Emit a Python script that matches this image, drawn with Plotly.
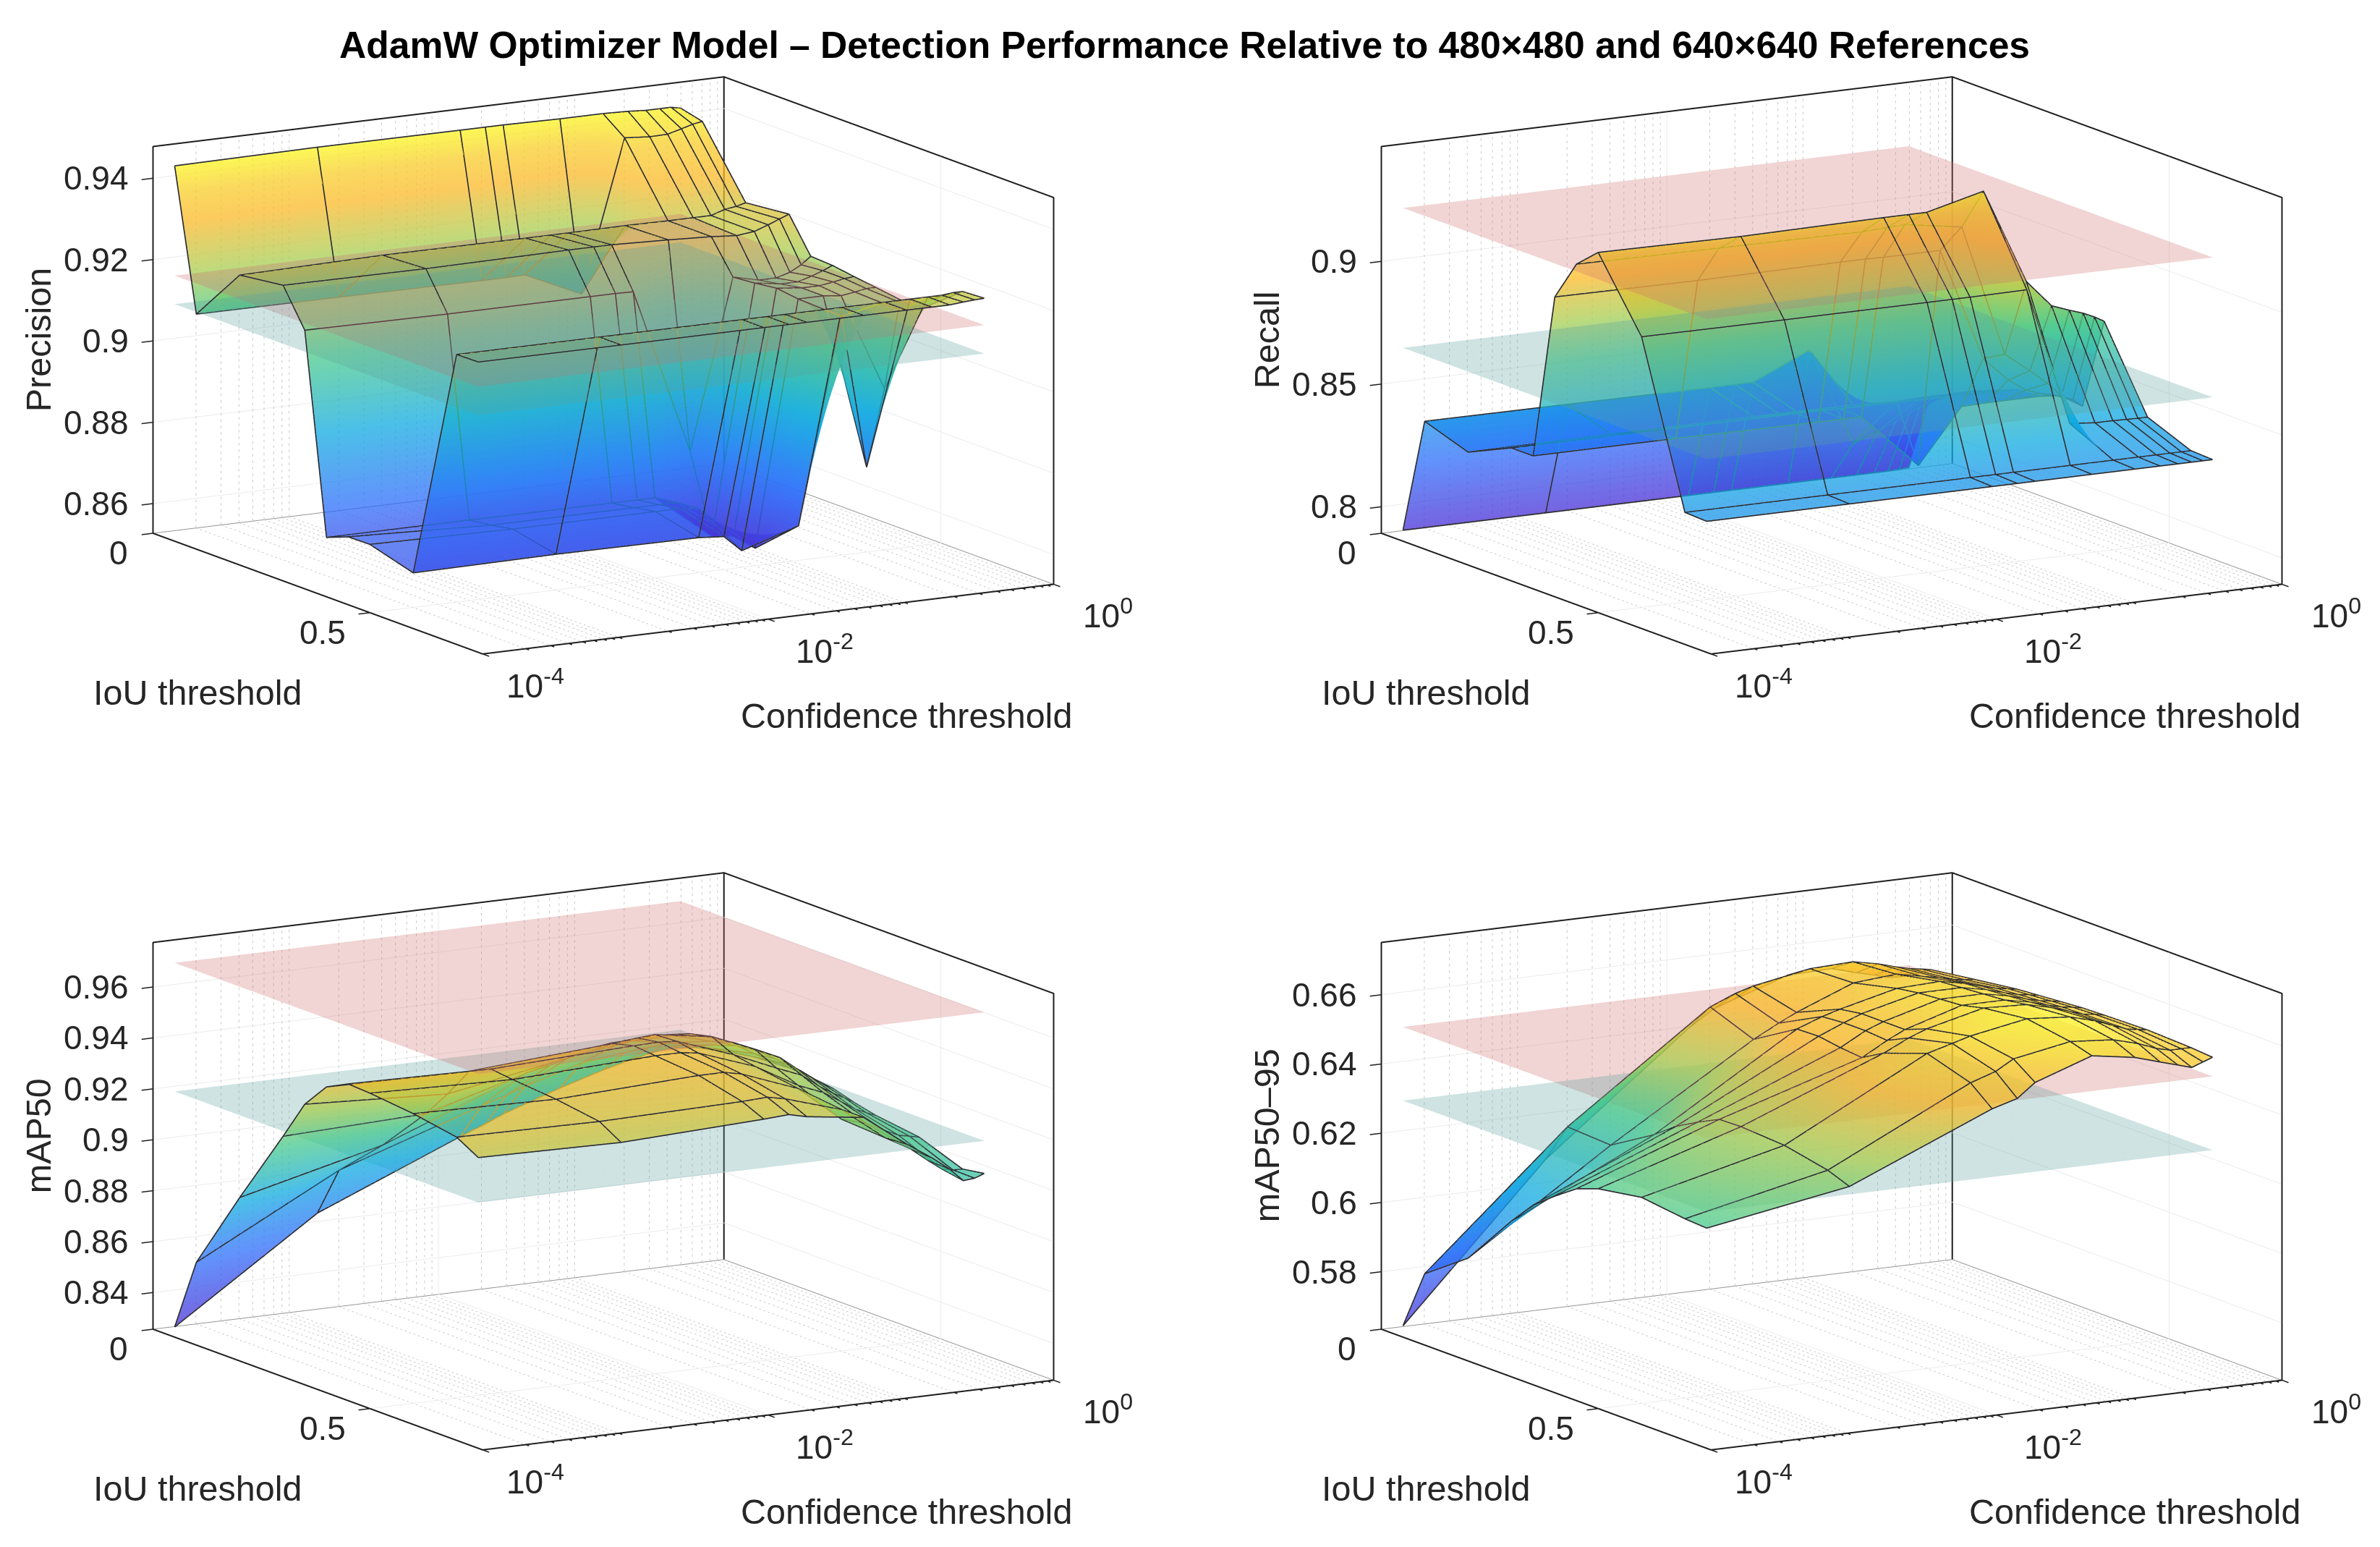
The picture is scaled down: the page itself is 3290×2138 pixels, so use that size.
import math
import plotly.graph_objects as go

conf = [1e-4, 1e-3, 0.01, 0.015, 0.02, 0.05, 0.1, 0.15, 0.2, 0.25, 0.3, 0.35]
iou = [0.05, 0.1, 0.2, 0.3, 0.35, 0.4, 0.45, 0.5, 0.6, 0.7, 0.75]

precision = [
    [.9450, .9453, .9452, .9452, .9452, .9450, .9450, .9448, .9445, .9445, .9445, .9440],
    [.9105, .9104, .9102, .9102, .9103, .9039, .9410, .9405, .9406, .9415, .9423, .9427],
    [.9240, .9246, .9245, .9245, .9245, .9246, .9245, .9245, .9245, .9256, .9260, .9266],
    [.9254, .9252, .9255, .9255, .9255, .9250, .9245, .9240, .9245, .9257, .9268, .9277],
    [.9163, .9160, .9160, .9160, .9159, .8750, .9165, .9150, .9150, .9160, .9175, .9193],
    [.8673, .8673, .8672, .8672, .8672, .8560, .9170, .9160, .9160, .9170, .9180, .9190],
    [.8694, .8680, .8680, .8680, .8680, .8580, .9177, .9170, .9170, .9175, .9180, .9182],
    [.8695, .8690, .8690, .8690, .8685, .8570, .9170, .9170, .9165, .9170, .9175, .9175],
    [.8664, .8667, .8665, .8660, .8620, .8664, .9166, .8788, .8975, .9166, .9170, .9160],
    [.9240, .9240, .9240, .9240, .9240, .9240, .9240, .9240, .9240, .9240, .9243, .9243],
    [.9241, .9240, .9240, .9240, .9240, .9240, .9240, .9240, .9240, .9243, .9245, .9246],
]
recall = [
    [.7937, .7937, .7937, .7937, .7937, .7937, .7937, .7937, .7937, .7937, .7939, .7941],
    [.8413, .8411, .8408, .8409, .8409, .8513, .8110, .8150, .8180, .8210, .8240, .8260],
    [.8352, .8354, .8354, .8354, .8354, .8352, .8345, .8350, .8350, .8350, .8350, .8350],
    [.8434, .8434, .8432, .8432, .8430, .8430, .8425, .8420, .8420, .8420, .8420, .8420],
    [.8434, .8434, .8430, .8430, .8428, .8203, .8422, .8425, .8425, .8425, .8425, .8425],
    [.9114, .9110, .9114, .9114, .9112, .9112, .8650, .8550, .8500, .8480, .8470, .8460],
    [.9280, .9275, .9270, .9275, .9278, .9240, .8700, .8620, .8560, .8500, .8480, .8450],
    [.9360, .9354, .9360, .9360, .9360, .9418, .9028, .8917, .8890, .8871, .8850, .8828],
    [.9081, .9079, .9079, .9079, .9079, .9081, .8515, .8505, .8505, .8503, .8502, .8502],
    [.8430, .8430, .8430, .8430, .8430, .8430, .8430, .8430, .8430, .8430, .8430, .8430],
    [.8426, .8426, .8426, .8426, .8426, .8426, .8426, .8426, .8426, .8426, .8426, .8426],
]
map50 = [
    [.8296, .8675, .8907, .8945, .8975, .9050, .9100, .9125, .9140, .9150, .9152, .9151],
    [.8581, .8875, .9060, .9090, .9115, .9180, .9200, .9210, .9215, .9200, .9190, .9183],
    [.8898, .9035, .9250, .9270, .9290, .9330, .9300, .9280, .9260, .9240, .9230, .9218],
    [.9201, .9221, .9380, .9400, .9410, .9415, .9370, .9340, .9300, .9270, .9250, .9227],
    [.9358, .9330, .9430, .9440, .9450, .9450, .9395, .9350, .9310, .9280, .9250, .9221],
    [.9457, .9450, .9490, .9500, .9505, .9470, .9400, .9355, .9300, .9260, .9230, .9210],
    [.9500, .9490, .9513, .9515, .9510, .9430, .9357, .9317, .9264, .9230, .9207, .9185],
    [.9495, .9480, .9505, .9505, .9495, .9415, .9320, .9280, .9235, .9200, .9180, .9165],
    [.9477, .9465, .9490, .9490, .9475, .9390, .9250, .9220, .9185, .9160, .9150, .9142],
    [.9447, .9440, .9450, .9455, .9440, .9370, .9240, .9185, .9130, .9090, .9080, .9079],
    [.9398, .9389, .9412, .9418, .9401, .9371, .9246, .9180, .9127, .9075, .9079, .9093],
]
map5095 = [
    [.5667, .6098, .6426, .6473, .6491, .6544, .6548, .6527, .6514, .6502, .6500, .6499],
    [.5840, .6214, .6510, .6540, .6555, .6585, .6590, .6575, .6560, .6550, .6545, .6540],
    [.5931, .6207, .6462, .6500, .6525, .6590, .6600, .6585, .6575, .6565, .6560, .6558],
    [.6084, .6283, .6538, .6565, .6580, .6620, .6625, .6610, .6595, .6585, .6580, .6575],
    [.6153, .6330, .6540, .6570, .6590, .6630, .6630, .6615, .6600, .6590, .6585, .6580],
    [.6202, .6365, .6530, .6570, .6590, .6635, .6635, .6620, .6605, .6595, .6590, .6585],
    [.6246, .6396, .6524, .6565, .6590, .6640, .6640, .6625, .6610, .6600, .6595, .6590],
    [.6269, .6398, .6560, .6595, .6615, .6655, .6650, .6632, .6615, .6602, .6598, .6592],
    [.6290, .6390, .6605, .6625, .6640, .6670, .6660, .6640, .6620, .6605, .6600, .6595],
    [.6274, .6364, .6566, .6590, .6620, .6650, .6640, .6620, .6600, .6590, .6590, .6590],
    [.6270, .6340, .6514, .6535, .6575, .6632, .6612, .6590, .6575, .6563, .6575, .6585],
]

# name, values, pink reference, teal reference, z limits, z ticks
panels = [
    ('Precision', precision, 0.918, 0.911, [0.8527, 0.9478], [0.86, 0.88, 0.9, 0.92, 0.94]),
    ('Recall', recall, 0.925, 0.868, [0.7892, 0.9468], [0.8, 0.85, 0.9]),
    ('mAP50', map50, 0.9726, 0.9221, [0.8256, 0.9775], [0.84, 0.86, 0.88, 0.9, 0.92, 0.94, 0.96]),
    ('mAP50\u201395', map5095, 0.653, 0.6317, [0.5634, 0.6751], [0.58, 0.6, 0.62, 0.64, 0.66]),
]
# transparent traces blend in trace order: does each plane go over the surface?
pink_on_top = [True, True, True, False]
teal_on_top = [True, True, False, False]

iou_max = 0.76
conf_ticks = [-4, -2, 0]
iou_ticks = [0, 0.5]
minor_conf = [m * 10.0 ** k for k in range(-4, 0) for m in range(2, 10)]

parula = [
    [0.0, 'rgb(72,48,215)'],
    [0.2, 'rgb(45,110,250)'],
    [0.4, 'rgb(15,170,225)'],
    [0.6, 'rgb(70,200,140)'],
    [0.72, 'rgb(170,205,80)'],
    [0.85, 'rgb(250,185,40)'],
    [0.93, 'rgb(248,205,40)'],
    [1.0, 'rgb(250,245,30)'],
]
flat_light = dict(ambient=1, diffuse=0, specular=0, roughness=1, fresnel=0)

# centre of each box on the page, pixels (page body adds 8 px)
W, H = 3290, 2138
box_w, box_h = 1500, 980
centres = [(826, 497), (2524, 497), (826, 1597), (2524, 1597)]

az = math.radians(30.0)
el = math.radians(12.2)
eye_r = 2.5
eye = dict(
    x=-eye_r * math.sin(az) * math.cos(el),
    y=-eye_r * math.cos(az) * math.cos(el),
    z=eye_r * math.sin(el),
)
# axis ranges are padded so ticks outside the box are not clipped,
# in orthographic mode the aspect ratio sets the drawn size
pad = 0.025
box_scale = 1.86 * (1 + 2 * pad)
x_pad = 4 * pad
y_pad = iou_max * pad


def mesh_lines(values):
    xs, ys, zs = [], [], []
    for j, y_ in enumerate(iou):
        xs += conf + [None]
        ys += [y_] * len(conf) + [None]
        zs += values[j] + [None]
    for i, x_ in enumerate(conf):
        xs += [x_] * len(iou) + [None]
        ys += iou + [None]
        zs += [row[i] for row in values] + [None]
    return xs, ys, zs


def label(x, y, z, text, dx, dy, size=46, angle=0, xanchor='center'):
    return dict(
        x=x, y=y, z=z, text=text, showarrow=False, xshift=dx, yshift=dy,
        xanchor=xanchor, yanchor='middle', textangle=angle,
        font=dict(family='Liberation Sans', size=size, color='#262626'),
    )


def line_trace(xs, ys, zs, color, width, sid):
    return go.Scatter3d(
        x=xs, y=ys, z=zs, mode='lines', line=dict(color=color, width=width),
        hoverinfo='skip', showlegend=False, scene=sid,
    )


def plane_trace(level, color, sid):
    return go.Surface(
        x=[conf[0], conf[-1]], y=[iou[0], iou[-1]], z=[[level, level], [level, level]],
        colorscale=[[0, color], [1, color]], opacity=0.3, showscale=False,
        lighting=flat_light, hoverinfo='skip', scene=sid,
    )


fig = go.Figure()
scenes = {}

for idx, (name, values, pink, teal, zlim, zticks) in enumerate(panels):
    sid = 'scene' if idx == 0 else f'scene{idx + 1}'
    x0, x1 = 1e-4, 1.0
    z0, z1 = zlim

    # grid first
    gx, gy, gz = [], [], []
    for t in zticks:
        gx += [x0, x1, x1, None]
        gy += [0, 0, iou_max, None]
        gz += [t, t, t, None]
    for t in conf_ticks:
        v = 10.0 ** t
        gx += [v, v, v, None]
        gy += [iou_max, 0, 0, None]
        gz += [z0, z0, z1, None]
    for t in iou_ticks:
        gx += [x0, x1, x1, None]
        gy += [t, t, t, None]
        gz += [z0, z0, z1, None]
    fig.add_trace(line_trace(gx, gy, gz, 'rgb(236,236,236)', 2, sid))

    # dotted minor grid of the log axis, floor and iou=0 wall
    dx_, dy_, dz_ = [], [], []
    n_floor, n_wall = 75, 60
    for m in minor_conf:
        for k in range(n_floor):
            y_a = iou_max * k / n_floor
            dx_ += [m, m, None]
            dy_ += [y_a, y_a + 0.4 * iou_max / n_floor, None]
            dz_ += [z0, z0, None]
        for k in range(n_wall):
            z_a = z0 + (z1 - z0) * k / n_wall
            dx_ += [m, m, None]
            dy_ += [0, 0, None]
            dz_ += [z_a, z_a + 0.4 * (z1 - z0) / n_wall, None]
    fig.add_trace(line_trace(dx_, dy_, dz_, 'rgb(200,200,200)', 2, sid))

    # back floor edges and box frame
    fig.add_trace(line_trace([x0, x1, x1], [0, 0, iou_max], [z0, z0, z0], 'rgb(150,150,150)', 2, sid))
    fig.add_trace(line_trace(
        [x0, x0, x1, x1, x1, None, x1, x1, None, x0, x0, x1],
        [0, 0, 0, iou_max, iou_max, None, 0, 0, None, 0, iou_max, iou_max],
        [z0, z1, z1, z1, z0, None, z1, z0, None, z0, z0, z0],
        'rgb(30,30,30)', 4, sid,
    ))

    # tick marks: z and iou stick out along -x, conf along +y
    tx, ty, tz = [], [], []
    x_out = 10.0 ** (-4 - 0.08)
    for t in zticks:
        tx += [x0, x_out, None]
        ty += [0, 0, None]
        tz += [t, t, None]
    for t in iou_ticks:
        tx += [x0, x_out, None]
        ty += [t, t, None]
        tz += [z0, z0, None]
    for t in conf_ticks:
        v = 10.0 ** t
        tx += [v, v, None]
        ty += [iou_max, iou_max + 0.015, None]
        tz += [z0, z0, None]
    for m in minor_conf:
        tx += [m, m, None]
        ty += [iou_max, iou_max + 0.008, None]
        tz += [z0, z0, None]
    fig.add_trace(line_trace(tx, ty, tz, 'rgb(30,30,30)', 3, sid))

    if not pink_on_top[idx]:
        fig.add_trace(plane_trace(pink, 'rgb(205,110,110)', sid))
    if not teal_on_top[idx]:
        fig.add_trace(plane_trace(teal, 'rgb(90,160,155)', sid))
    # colour limits span the surface and the upper reference plane
    flat = [v for row in values for v in row]
    fig.add_trace(go.Surface(
        x=conf, y=iou, z=values, surfacecolor=values, colorscale=parula, opacity=0.75,
        cmin=min(flat), cmax=max(max(flat), pink),
        showscale=False, lighting=flat_light, hoverinfo='skip', scene=sid,
    ))
    if pink_on_top[idx]:
        fig.add_trace(plane_trace(pink, 'rgb(205,110,110)', sid))
    if teal_on_top[idx]:
        fig.add_trace(plane_trace(teal, 'rgb(90,160,155)', sid))

    mx, my, mz = mesh_lines(values)
    fig.add_trace(line_trace(mx, my, mz, 'rgb(45,45,50)', 3.5, sid))

    anns = []
    for t in zticks:
        anns.append(label(-4, 0, t, f'{t:g}', -32, 0, xanchor='right'))
    for t, dx in zip(iou_ticks, [-48, -65]):
        anns.append(label(-4, t, z0, f'{t:g}', dx, -27))
    for t, dx in zip(conf_ticks, [73, 78, 75]):
        anns.append(label(t, iou_max, z0, f'10<sup>{t}</sup>', dx, -41))
    anns.append(label(-4, iou_max / 2, z0, 'IoU threshold', -166, -137, size=48.5))
    anns.append(label(-2, iou_max, z0, 'Confidence threshold', 191, -133, size=48.5))
    anns.append(label(-4, 0, (z0 + z1) / 2, name, -159, 0, size=48.5, angle=-90))

    cx, cy = centres[idx]
    axis_common = dict(
        showbackground=False, showline=False, zeroline=False, showspikes=False,
        showgrid=False, showticklabels=False, title='', ticks='',
    )
    z_pad = (z1 - z0) * 0.001
    scenes[sid] = dict(
        domain=dict(
            x=[(cx - box_w / 2) / W, (cx + box_w / 2) / W],
            y=[1 - (cy + box_h / 2) / H, 1 - (cy - box_h / 2) / H],
        ),
        xaxis=dict(type='log', range=[-4 - x_pad, x_pad], **axis_common),
        yaxis=dict(range=[iou_max + y_pad, -y_pad], **axis_common),
        zaxis=dict(range=[z0 - z_pad, z1 + z_pad], **axis_common),
        aspectmode='manual',
        aspectratio=dict(x=box_scale, y=box_scale, z=0.6 * 1.86 * 1.002),
        camera=dict(
            eye=eye, center=dict(x=0, y=0, z=0), up=dict(x=0, y=0, z=1),
            projection=dict(type='orthographic'),
        ),
        annotations=anns,
    )

fig.update_layout(
    width=W, height=H,
    margin=dict(l=0, r=0, t=0, b=0),
    paper_bgcolor='white',
    showlegend=False,
    title=dict(
        text='<b>AdamW Optimizer Model \u2013 Detection Performance Relative to 480\u00d7480 and 640\u00d7640 References</b>',
        x=0.4953, xanchor='center', y=0.9748, yanchor='middle',
        font=dict(family='Liberation Sans', size=51.6, color='black'),
    ),
    **scenes,
)

fig.write_html("out.html")
